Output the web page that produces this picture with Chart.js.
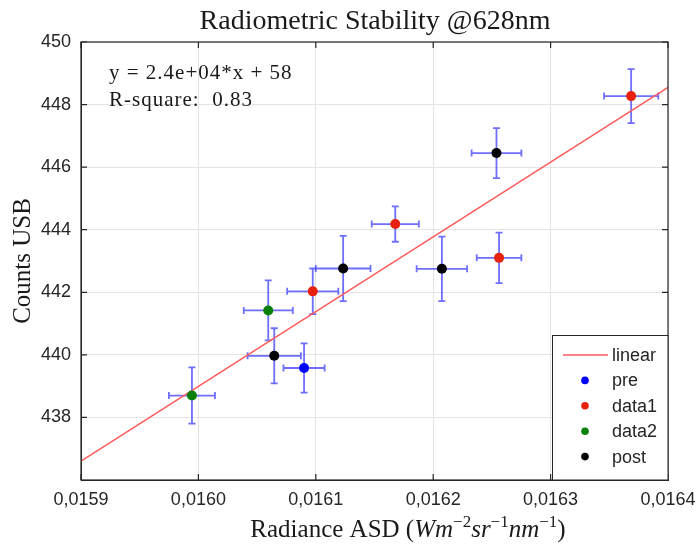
<!DOCTYPE html>
<html>
<head>
<meta charset="utf-8">
<script src="https://cdn.jsdelivr.net/npm/chart.js@4"></script>
<style>
  body { margin: 0; background: #fff; }
</style>
</head>
<body>
<canvas id="chart" width="699" height="551"></canvas>
<script>
// ticks
const xTicks = [0.0159, 0.0160, 0.0161, 0.0162, 0.0163, 0.0164];
const xTickLabels = ['0,0159', '0,0160', '0,0161', '0,0162', '0,0163', '0,0164'];
const yTicks = [438, 440, 442, 444, 446, 448, 450];
const yTickLabels = ['438', '440', '442', '444', '446', '448', '450'];

// series (radiance, counts, and their errors)
const preX = [0.016090];
const preY = [439.58];
const preXErr = [0.0000175];
const preYErr = [0.79];

const data1X = [0.0160974, 0.0161677, 0.0162561, 0.0163686];
const data1Y = [442.03, 444.18, 443.10, 448.27];
const data1XErr = [0.0000218, 0.0000201, 0.0000190, 0.0000231];
const data1YErr = [0.73, 0.565, 0.81, 0.86];

const data2X = [0.0159945, 0.0160595];
const data2Y = [438.70, 441.42];
const data2XErr = [0.0000196, 0.0000209];
const data2YErr = [0.90, 0.96];

const postX = [0.0160646, 0.0161233, 0.0162074, 0.0162539];
const postY = [439.97, 442.76, 442.75, 446.45];
const postXErr = [0.0000227, 0.0000233, 0.0000215, 0.0000212];
const postYErr = [0.88, 1.04, 1.03, 0.80];

// linear fit drawn across the axis range
const fitX = [0.0159, 0.0164];
const fitY = [436.6, 448.55];

const fitText = ['y = 2.4e+04*x + 58', 'R-square:  0.83'];

const pts = (xs, ys) => xs.map((v, i) => ({ x: v, y: ys[i] }));

function scatterSet(label, color, xs, ys, ex, ey) {
  return {
    type: 'scatter',
    label: label,
    data: pts(xs, ys),
    errX: ex,
    errY: ey,
    backgroundColor: color,
    borderColor: color,
    pointRadius: 5,
    pointBorderWidth: 0,
    order: 1
  };
}

const datasets = [
  scatterSet('pre', '#0000ff', preX, preY, preXErr, preYErr),
  scatterSet('data1', '#e8210c', data1X, data1Y, data1XErr, data1YErr),
  scatterSet('data2', '#0a800a', data2X, data2Y, data2XErr, data2YErr),
  scatterSet('post', '#000000', postX, postY, postXErr, postYErr),
  {
    type: 'line',
    label: 'linear',
    data: pts(fitX, fitY),
    borderColor: '#ff5a5a',
    borderWidth: 1.5,
    pointRadius: 0,
    fill: false,
    order: 10
  }
];

const SERIF = '"Liberation Serif", "DejaVu Serif", serif';
const SANS = '"Liberation Sans", Arial, sans-serif';

// error bars under the markers
const errorBars = {
  id: 'errorBars',
  beforeDatasetsDraw(chart) {
    const ctx = chart.ctx;
    const xs = chart.scales.x, ys = chart.scales.y;
    const cap = 3.5;
    ctx.save();
    ctx.strokeStyle = 'rgba(55,55,255,0.72)';
    ctx.lineWidth = 1.8;
    chart.data.datasets.forEach(ds => {
      if (!ds.errX) return;
      ds.data.forEach((p, i) => {
        const cx = xs.getPixelForValue(p.x), cy = ys.getPixelForValue(p.y);
        const x0 = xs.getPixelForValue(p.x - ds.errX[i]);
        const x1 = xs.getPixelForValue(p.x + ds.errX[i]);
        const y0 = ys.getPixelForValue(p.y - ds.errY[i]);
        const y1 = ys.getPixelForValue(p.y + ds.errY[i]);
        ctx.beginPath();
        ctx.moveTo(x0, cy); ctx.lineTo(x1, cy);
        ctx.moveTo(x0, cy - cap); ctx.lineTo(x0, cy + cap);
        ctx.moveTo(x1, cy - cap); ctx.lineTo(x1, cy + cap);
        ctx.moveTo(cx, y0); ctx.lineTo(cx, y1);
        ctx.moveTo(cx - cap, y0); ctx.lineTo(cx + cap, y0);
        ctx.moveTo(cx - cap, y1); ctx.lineTo(cx + cap, y1);
        ctx.stroke();
      });
    });
    ctx.restore();
  }
};

// box, inward ticks, titles, fit text and legend
const decorations = {
  id: 'decorations',
  afterDraw(chart) {
    const ctx = chart.ctx;
    const a = chart.chartArea;
    const xs = chart.scales.x, ys = chart.scales.y;
    ctx.save();

    // box and ticks
    ctx.strokeStyle = '#262626';
    ctx.lineWidth = 1.2;
    ctx.strokeRect(a.left, a.top, a.right - a.left, a.bottom - a.top);
    ctx.beginPath();
    xTicks.forEach(v => {
      const px = xs.getPixelForValue(v);
      ctx.moveTo(px, a.bottom); ctx.lineTo(px, a.bottom - 6);
      ctx.moveTo(px, a.top); ctx.lineTo(px, a.top + 6);
    });
    yTicks.forEach(v => {
      const py = ys.getPixelForValue(v);
      ctx.moveTo(a.left, py); ctx.lineTo(a.left + 6, py);
      ctx.moveTo(a.right, py); ctx.lineTo(a.right - 6, py);
    });
    ctx.stroke();

    // title
    ctx.fillStyle = '#1a1a1a';
    ctx.font = '28px ' + SERIF;
    ctx.textAlign = 'center';
    ctx.textBaseline = 'alphabetic';
    ctx.fillText('Radiometric Stability @628nm', 375, 29);

    // y axis label
    ctx.save();
    ctx.translate(23, 261);
    ctx.rotate(-Math.PI / 2);
    ctx.font = '25px ' + SERIF;
    ctx.textBaseline = 'middle';
    ctx.fillText('Counts USB', 0, 0);
    ctx.restore();

    // x axis label with italic units and superscripts
    const parts = [
      { t: 'Radiance ASD (', f: '25px ' + SERIF, dy: 0 },
      { t: 'Wm', f: 'italic 25px ' + SERIF, dy: 0 },
      { t: '\u22122', f: '17px ' + SERIF, dy: -10 },
      { t: 'sr', f: 'italic 25px ' + SERIF, dy: 0 },
      { t: '\u22121', f: '17px ' + SERIF, dy: -10 },
      { t: 'nm', f: 'italic 25px ' + SERIF, dy: 0 },
      { t: '\u22121', f: '17px ' + SERIF, dy: -10 },
      { t: ')', f: '25px ' + SERIF, dy: 0 }
    ];
    let total = 0;
    parts.forEach(p => { ctx.font = p.f; p.w = ctx.measureText(p.t).width; total += p.w; });
    let px = 408 - total / 2;
    ctx.textAlign = 'left';
    ctx.textBaseline = 'alphabetic';
    parts.forEach(p => { ctx.font = p.f; ctx.fillText(p.t, px, 537 + p.dy); px += p.w; });

    // fit annotation
    ctx.font = '21px ' + SERIF;
    ctx.letterSpacing = '1px';
    ctx.fillText(fitText[0], 109, 79);
    ctx.fillText(fitText[1], 109, 106);
    ctx.letterSpacing = '0px';

    // legend
    const lx = 552, ly = 335;
    ctx.fillStyle = '#ffffff';
    ctx.fillRect(lx, ly, a.right - lx, a.bottom - ly);
    ctx.strokeStyle = '#262626';
    ctx.lineWidth = 1;
    ctx.strokeRect(lx + 0.5, ly + 0.5, a.right - lx - 0.5, a.bottom - ly - 0.5);
    const order = ['linear', 'pre', 'data1', 'data2', 'post'];
    ctx.font = '18px ' + SANS;
    ctx.textBaseline = 'middle';
    order.forEach((name, i) => {
      const ds = chart.data.datasets.find(d => d.label === name);
      const cy = 355 + i * 25.4;
      if (ds.type === 'line') {
        ctx.strokeStyle = ds.borderColor;
        ctx.lineWidth = 1.5;
        ctx.beginPath();
        ctx.moveTo(563, cy); ctx.lineTo(608, cy);
        ctx.stroke();
      } else {
        ctx.fillStyle = ds.backgroundColor;
        ctx.beginPath();
        ctx.arc(585, cy, 3.8, 0, Math.PI * 2);
        ctx.fill();
      }
      ctx.fillStyle = '#262626';
      ctx.fillText(name, 612, cy + 1);
    });

    ctx.restore();
  }
};

new Chart(document.getElementById('chart'), {
  type: 'scatter',
  data: { datasets: datasets },
  options: {
    responsive: false,
    animation: false,
    layout: { padding: { top: 42, right: 31, bottom: 0, left: 0 } },
    plugins: {
      legend: { display: false },
      tooltip: { enabled: false }
    },
    scales: {
      x: {
        type: 'linear',
        min: 0.0159,
        max: 0.0164,
        afterBuildTicks: s => { s.ticks = xTicks.map(v => ({ value: v })); },
        afterFit: s => { s.height = 71; s.paddingLeft = 0; s.paddingRight = 0; },
        ticks: {
          callback: (v, i) => xTickLabels[i],
          font: { family: SANS, size: 18 },
          color: '#262626',
          padding: 9,
          maxRotation: 0,
          autoSkip: false
        },
        grid: { color: '#e4e4e4', drawTicks: false },
        border: { display: true, color: '#262626' }
      },
      y: {
        type: 'linear',
        min: 436,
        max: 450,
        afterBuildTicks: s => { s.ticks = yTicks.map(v => ({ value: v })); },
        afterFit: s => { s.width = 81; s.paddingTop = 0; s.paddingBottom = 0; },
        ticks: {
          callback: (v, i) => yTickLabels[i],
          font: { family: SANS, size: 18 },
          color: '#262626',
          padding: 10,
          autoSkip: false
        },
        grid: { color: '#e4e4e4', drawTicks: false },
        border: { display: true, color: '#262626' }
      }
    }
  },
  plugins: [errorBars, decorations]
});
</script>
</body>
</html>
